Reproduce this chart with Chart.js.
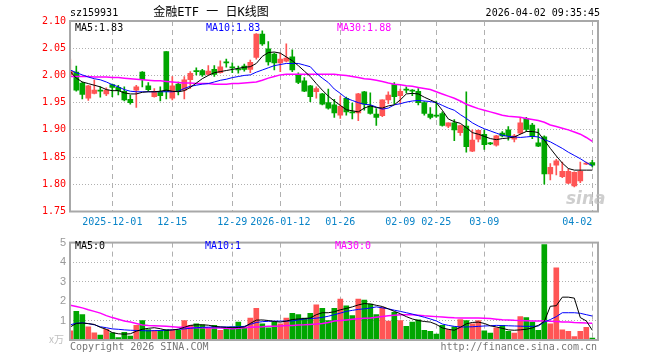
<!DOCTYPE html>
<html>
<head>
<meta charset="utf-8">
<script src="https://cdn.jsdelivr.net/npm/chart.js@4.4.1/dist/chart.umd.min.js"></script>
<style>
  body { margin: 0; background: #fff; width: 660px; height: 360px; overflow: hidden; position: relative; }
  #kChart { position: absolute; left: 0; top: 0; }
  #volChart { position: absolute; left: 0; top: 232px; }
</style>
</head>
<body>
<canvas id="kChart" width="660" height="232"></canvas>
<canvas id="volChart" width="660" height="128"></canvas>
<script>
// 88 trading days, 2025-11-20 .. 2026-04-02, index 0..87
const tickIdx = [7, 17, 27, 35, 45, 55, 61, 69, 87];
const tickLabels = ['2025-12-01', '12-15', '12-29', '2026-01-12', '01-26', '02-09', '02-25', '03-09', '04-02'];
const priceTicks = [1.75, 1.80, 1.85, 1.90, 1.95, 2.00, 2.05, 2.10];
const volTicks = [0, 1, 2, 3, 4, 5];

const openP = [2.001,2.006,1.986,1.958,1.967,1.973,1.966,1.983,1.978,1.971, 1.956,1.973,2.006,1.981,1.961,1.971,2.044,1.958,1.984,1.973,
  1.992,2.009,2.009,2.002,2.011,2.005,2.025,2.016,2.012,2.017, 2.011,2.033,2.076,2.049,2.039,2.023,2.026,2.034,2.002,1.990,
  1.981,1.970,1.966,1.950,1.946,1.927,1.958,1.933,1.931,1.970, 1.944,1.929,1.926,1.955,1.983,1.963,1.975,1.973,1.971,1.950,
  1.929,1.927,1.930,1.907,1.913,1.895,1.907,1.861,1.883,1.892, 1.876,1.872,1.894,1.900,1.883,1.894,1.921,1.909,1.876,1.887,
  1.819,1.835,1.814,1.802,1.797,1.806,1.837,1.840];
const closeP = [2.008,1.973,1.965,1.981,1.973,1.971,1.973,1.978,1.972,1.955, 1.950,1.979,1.992,1.974,1.971,1.963,1.970,1.981,1.971,1.992,
  2.004,2.007,2.001,2.008,2.002,2.016,2.023,2.014,2.010,2.011, 2.024,2.076,2.058,2.025,2.023,2.030,2.032,2.010,1.987,1.971,
  1.961,1.976,1.947,1.940,1.931,1.943,1.933,1.931,1.966,1.947, 1.930,1.923,1.955,1.964,1.961,1.971,1.973,1.971,1.950,1.930,
  1.923,1.925,1.908,1.913,1.900,1.908,1.869,1.881,1.899,1.873, 1.874,1.889,1.889,1.889,1.889,1.913,1.901,1.889,1.870,1.819,
  1.831,1.843,1.824,1.824,1.822,1.824,1.839,1.835];
const highP = [2.030,2.017,1.988,1.982,1.992,1.979,1.977,1.984,1.982,1.979, 1.964,1.982,2.007,1.987,1.976,1.979,2.044,1.998,1.988,1.998,
  2.007,2.014,2.011,2.018,2.018,2.027,2.030,2.023,2.017,2.021, 2.028,2.077,2.082,2.062,2.041,2.041,2.058,2.047,2.005,1.996,
  1.982,1.979,1.967,1.975,1.956,1.962,1.960,1.949,1.967,1.971, 1.968,1.939,1.955,1.970,1.987,1.975,1.979,1.974,1.976,1.952,
  1.941,1.953,1.933,1.913,1.919,1.909,1.970,1.900,1.900,1.900, 1.877,1.890,1.897,1.906,1.892,1.923,1.923,1.912,1.902,1.889,
  1.838,1.846,1.841,1.828,1.823,1.841,1.841,1.844];
const lowP = [1.999,1.971,1.957,1.954,1.966,1.960,1.963,1.961,1.964,1.953, 1.947,1.941,1.979,1.971,1.960,1.953,1.957,1.955,1.964,1.957,
  1.976,2.001,1.998,2.001,1.998,2.004,2.015,2.005,2.004,2.008, 2.005,2.030,2.055,2.019,2.010,2.007,2.025,2.007,1.985,1.970,
  1.952,1.958,1.946,1.938,1.923,1.921,1.927,1.920,1.917,1.936, 1.929,1.908,1.924,1.948,1.948,1.948,1.968,1.963,1.946,1.927,
  1.920,1.923,1.907,1.904,1.880,1.890,1.859,1.860,1.878,1.864, 1.873,1.870,1.887,1.881,1.878,1.892,1.897,1.884,1.869,1.800,
  1.808,1.817,1.812,1.801,1.795,1.803,1.836,1.832];

const ma5 = [2.007,1.995,1.988,1.985,1.982,1.979,1.974,1.972,1.972,1.968, 1.966,1.966,1.969,1.970,1.970,1.971,1.973,1.971,1.970,1.972,
  1.978,1.986,1.994,2.000,2.005,2.007,2.009,2.011,2.013,2.015, 2.016,2.022,2.035,2.042,2.043,2.041,2.034,2.027,2.018,2.008,
  1.998,1.985,1.973,1.962,1.953,1.945,1.937,1.935,1.933,1.940, 1.944,1.941,1.940,1.944,1.946,1.955,1.966,1.967,1.966,1.960,
  1.955,1.950,1.936,1.920,1.915,1.912,1.904,1.895,1.892,1.888, 1.884,1.882,1.884,1.885,1.887,1.892,1.897,1.897,1.895,1.881,
  1.866,1.852,1.839,1.829,1.826,1.826,1.826,1.826];
const ma10 = [2.010,2.005,2.001,1.997,1.994,1.992,1.988,1.983,1.979,1.974, 1.971,1.970,1.970,1.970,1.970,1.970,1.970,1.970,1.971,1.976,
  1.980,1.982,1.984,1.985,1.988,1.991,1.993,1.996,1.998,2.000, 2.001,2.006,2.010,2.014,2.018,2.020,2.022,2.022,2.022,2.019,
  2.016,2.004,1.995,1.987,1.975,1.967,1.958,1.954,1.950,1.947, 1.946,1.942,1.938,1.940,1.946,1.948,1.951,1.953,1.954,1.953,
  1.952,1.950,1.945,1.940,1.936,1.928,1.921,1.913,1.907,1.902, 1.898,1.894,1.890,1.888,1.887,1.886,1.887,1.888,1.887,1.882,
  1.878,1.872,1.866,1.859,1.853,1.847,1.840,1.834];
const ma30 = [1.998,1.998,1.998,1.998,1.997,1.997,1.997,1.996,1.996,1.995, 1.994,1.993,1.992,1.991,1.990,1.990,1.989,1.988,1.987,1.986,
  1.986,1.985,1.985,1.985,1.984,1.984,1.984,1.985,1.985,1.986, 1.987,1.988,1.991,1.995,1.998,2.001,2.002,2.002,2.002,2.002,
  2.002,2.002,2.002,2.002,2.002,2.001,2.000,1.998,1.996,1.994, 1.993,1.991,1.989,1.986,1.984,1.983,1.981,1.980,1.978,1.976,
  1.974,1.970,1.966,1.962,1.958,1.953,1.947,1.943,1.939,1.936, 1.933,1.930,1.927,1.925,1.924,1.923,1.921,1.919,1.917,1.914,
  1.909,1.906,1.903,1.900,1.896,1.892,1.886,1.879];

// volume, x万
const vol = [0.47,1.47,1.30,0.67,0.37,0.25,0.55,0.37,0.12,0.40, 0.20,0.75,1.00,0.53,0.50,0.50,0.53,0.50,0.50,1.00,
  0.75,0.83,0.78,0.63,0.75,0.50,0.62,0.67,0.92,0.67, 1.12,1.62,0.83,0.63,0.92,0.83,1.12,1.37,1.30,1.13,
  1.37,1.80,1.62,1.00,1.62,2.10,1.75,1.25,2.10,2.05, 1.85,1.30,1.68,0.97,1.42,1.00,0.70,0.92,1.03,0.50,
  0.45,0.30,0.75,0.53,0.67,1.05,1.00,0.83,1.00,0.47, 0.35,0.62,0.75,0.45,0.35,1.20,1.15,0.92,0.50,4.90,
  0.83,3.70,0.52,0.45,0.17,0.45,0.65,0.10];
const volMa5 = [0.67,0.85,0.87,0.84,0.80,0.65,0.55,0.38,0.32,0.30, 0.32,0.45,0.55,0.60,0.63,0.58,0.50,0.52,0.55,0.65,
  0.75,0.78,0.78,0.76,0.70,0.67,0.65,0.63,0.64,0.67, 0.85,1.02,1.03,1.00,0.95,0.92,0.97,1.05,1.08,1.10,
  1.13,1.30,1.40,1.40,1.45,1.55,1.62,1.70,1.80,1.87, 1.85,1.78,1.72,1.60,1.47,1.35,1.20,1.08,1.00,0.95,
  0.92,0.80,0.62,0.55,0.50,0.65,0.83,0.90,0.92,0.85, 0.73,0.67,0.60,0.52,0.50,0.52,0.55,0.62,0.75,0.95,
  1.73,1.76,2.20,2.20,2.15,1.15,0.98,0.50];
const volMa10 = [0.78,0.86,0.88,0.84,0.78,0.68,0.63,0.57,0.55,0.52, 0.50,0.49,0.48,0.47,0.48,0.49,0.50,0.52,0.55,0.57,
  0.60,0.63,0.65,0.66,0.67,0.67,0.67,0.67,0.68,0.70, 0.80,0.90,0.94,0.96,0.97,0.97,0.97,0.98,1.03,1.08,
  1.10,1.12,1.16,1.22,1.30,1.38,1.47,1.52,1.57,1.60, 1.64,1.70,1.65,1.60,1.53,1.47,1.40,1.33,1.25,1.17,
  1.08,0.98,0.82,0.75,0.70,0.67,0.67,0.68,0.70,0.72, 0.73,0.75,0.74,0.73,0.72,0.71,0.70,0.70,0.72,0.92,
  1.05,1.20,1.40,1.40,1.40,1.37,1.30,1.23];
const volMa30 = [1.78,1.72,1.65,1.55,1.47,1.38,1.25,1.15,1.07,0.98, 0.92,0.85,0.77,0.74,0.73,0.72,0.70,0.68,0.66,0.65,
  0.64,0.63,0.63,0.62,0.62,0.62,0.60,0.58,0.60,0.63, 0.66,0.67,0.68,0.70,0.71,0.72,0.74,0.75,0.77,0.78,
  0.80,0.82,0.85,0.90,0.97,1.00,1.03,1.06,1.09,1.12, 1.13,1.17,1.21,1.25,1.27,1.29,1.30,1.29,1.27,1.24,
  1.22,1.20,1.18,1.16,1.14,1.13,1.13,1.13,1.13,1.12, 1.10,1.07,1.04,1.03,1.01,1.00,0.99,0.98,0.97,0.97,
  0.96,0.95,0.93,0.92,0.90,0.89,0.87,0.86];

const mono = "'DejaVu Sans Mono', monospace";
const upColor = '#ff5555';
const downColor = '#00a600';
const candleColors = closeP.map((c, i) => c >= openP[i] ? upColor : downColor);

let toPoints = (arr) => arr.map((v, i) => ({ x: i, y: v }));

let maLine = (arr, color, width) => ({
  type: 'line',
  data: toPoints(arr),
  borderColor: color,
  borderWidth: width,
  pointRadius: 0,
  tension: 0,
  order: 0
});

// gray box round the plot area
const framePlugin = {
  id: 'frame',
  afterDraw(chart) {
    let a = chart.chartArea;
    let ctx = chart.ctx;
    ctx.save();
    ctx.strokeStyle = '#a8a8a8';
    ctx.lineWidth = 2;
    ctx.strokeRect(a.left, a.top, a.right - a.left, a.bottom - a.top);
    ctx.restore();
  }
};

let textPlugin = (items) => ({
  id: 'texts',
  afterDraw(chart) {
    let ctx = chart.ctx;
    ctx.save();
    ctx.textBaseline = 'middle';
    items.forEach(t => {
      ctx.font = t.font || ('10px ' + mono);
      ctx.fillStyle = t.color;
      ctx.textAlign = t.align || 'left';
      ctx.fillText(t.text, t.x, t.y);
    });
    ctx.restore();
  }
});

let xScale = (showLabels, height) => ({
  type: 'linear',
  offset: false,
  min: -0.05,
  max: 87.95,
  afterBuildTicks: (s) => { s.ticks = tickIdx.map(v => ({ value: v })); },
  afterFit: (s) => { s.height = height; },
  ticks: {
    display: showLabels,
    autoSkip: false,
    maxRotation: 0,
    padding: 5,
    color: '#0a84c8',
    font: { family: mono, size: 10 },
    // last label sits left of its tick, against the frame
    callback: (v, i) => i === tickIdx.length - 1 ? tickLabels[i] + '     ' : tickLabels[i]
  },
  grid: { offset: false, color: '#b0b0b0', lineWidth: 1, drawTicks: false },
  border: { display: false, dash: [5, 4] }
});

new Chart(document.getElementById('kChart').getContext('2d'), {
  type: 'bar',
  data: {
    datasets: [
      maLine(ma5, '#000000', 1),
      maLine(ma10, '#0000ff', 1),
      maLine(ma30, '#ff00ff', 1.5),
      {
        data: openP.map((o, i) => ({ x: i, y: [o, closeP[i]] })),
        backgroundColor: candleColors,
        barThickness: 5,
        minBarLength: 1,
        grouped: false,
        order: 1
      },
      {
        data: lowP.map((l, i) => ({ x: i, y: [l, highP[i]] })),
        backgroundColor: candleColors,
        barThickness: 1,
        grouped: false,
        order: 2
      }
    ]
  },
  options: {
    responsive: false,
    animation: false,
    devicePixelRatio: 1,
    layout: { padding: { top: 21, right: 62, left: 0, bottom: 0 } },
    plugins: { legend: { display: false }, tooltip: { enabled: false } },
    scales: {
      x: xScale(true, 20.5),
      y: {
        min: 1.75,
        max: 2.10,
        afterBuildTicks: (s) => { s.ticks = priceTicks.map(v => ({ value: v })); },
        afterFit: (s) => { s.width = 70; },
        ticks: { color: '#ff0000', padding: 4, font: { family: mono, size: 10 }, callback: (v) => v.toFixed(2) },
        grid: { color: '#b0b0b0', drawTicks: false },
        border: { display: false, dash: [1, 2] }
      }
    }
  },
  plugins: [framePlugin, textPlugin([
    { text: 'sz159931', x: 70, y: 13, color: '#000' },
    { text: '金融ETF 一 日K线图', x: 211, y: 13, color: '#000', align: 'center', font: "12px 'DejaVu Sans Mono', 'Noto Sans CJK SC'" },
    { text: '2026-04-02 09:35:45', x: 600, y: 13, color: '#000', align: 'right' },
    { text: 'MA5:1.83', x: 75, y: 28, color: '#000' },
    { text: 'MA10:1.83', x: 206, y: 28, color: '#0000ff' },
    { text: 'MA30:1.88', x: 337, y: 28, color: '#ff00ff' },
    { text: 'sina', x: 566, y: 200, color: 'rgba(190,190,190,0.75)', font: "italic bold 17px 'DejaVu Sans', sans-serif" }
  ])]
});

new Chart(document.getElementById('volChart').getContext('2d'), {
  type: 'bar',
  data: {
    datasets: [
      maLine(volMa5, '#000000', 1),
      maLine(volMa10, '#0000ff', 1),
      maLine(volMa30, '#ff00ff', 1.5),
      {
        data: vol.map((v, i) => ({ x: i, y: v })),
        backgroundColor: candleColors,
        barThickness: 5,
        grouped: false,
        order: 1
      }
    ]
  },
  options: {
    responsive: false,
    animation: false,
    devicePixelRatio: 1,
    layout: { padding: { top: 8, right: 62, left: 0, bottom: 0 } },
    plugins: { legend: { display: false }, tooltip: { enabled: false } },
    scales: {
      x: xScale(false, 20),
      y: {
        min: 0,
        max: 5,
        afterBuildTicks: (s) => { s.ticks = volTicks.map(v => ({ value: v })); },
        afterFit: (s) => { s.width = 70; },
        ticks: { color: '#999999', padding: 4, font: { family: "'Liberation Sans', sans-serif", size: 11 }, callback: (v) => v === 0 ? '' : String(v) },
        grid: { color: '#b0b0b0', drawTicks: false },
        border: { display: false, dash: [1, 2] }
      }
    }
  },
  plugins: [framePlugin, textPlugin([
    { text: 'MA5:0', x: 75, y: 14, color: '#000' },
    { text: 'MA10:1', x: 205, y: 14, color: '#0000ff' },
    { text: 'MA30:0', x: 335, y: 14, color: '#ff00ff' },
    { text: 'x万', x: 64, y: 107, color: '#c0c0c0', align: 'right', font: "10px 'Noto Sans CJK SC', sans-serif" },
    { text: 'Copyright 2026 SINA.COM', x: 70, y: 115, color: '#777777' },
    { text: 'http://finance.sina.com.cn', x: 597, y: 115, color: '#777777', align: 'right' }
  ])]
});
</script>
</body>
</html>
